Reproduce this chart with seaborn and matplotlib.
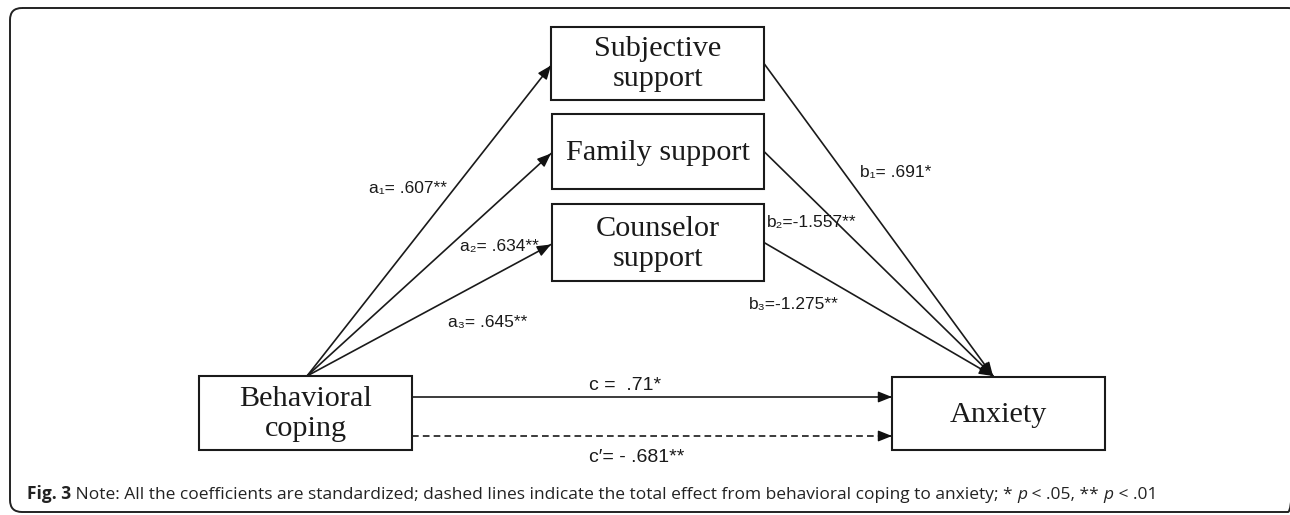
import matplotlib
matplotlib.use("Agg")
import matplotlib.pyplot as plt
import seaborn as sns
import pandas as pd
from matplotlib.patches import Rectangle, FancyBboxPatch

# ---- data ----
node_names = ["Behavioral\ncoping", "Subjective\nsupport", "Family support",
              "Counselor\nsupport", "Anxiety"]
a_labels = ["a\u2081= .607**", "a\u2082= .634**", "a\u2083= .645**"]
b_labels = ["b\u2081= .691*", "b\u2082=-1.557**", "b\u2083=-1.275**"]
c_label = "c =  .71*"
c_prime_label = "c\u2032= - .681**"
caption_bold = "Fig. 3"
caption_text = (" Note: All the coefficients are standardized; dashed lines indicate the total "
                "effect from behavioral coping to anxiety; * ")
caption_tail = [("p", "italic"), (" < .05, ** ", "normal"), ("p", "italic"), (" < .01", "normal")]

# ---- layout (pixel coordinates, y downward) ----
boxes = {  # x0, y0, x1, y1
    0: (199, 376, 412, 450),
    1: (551, 27, 764, 100),
    2: (552, 114, 764, 189),
    3: (552, 204, 764, 281),
    4: (892, 377, 1105, 450),
}

sns.set_theme(style="white")
fig = plt.figure(figsize=(12.9, 5.15), dpi=100)
ax = fig.add_axes([0, 0, 1, 1])

serif = ["Liberation Serif", "DejaVu Serif"]
sans = ["Liberation Sans", "DejaVu Sans"]

# edges
src = (307, 376)
mids = [(boxes[k][1] + boxes[k][3]) / 2 for k in (1, 2, 3)]
edges = []
for k, m in enumerate(mids):
    edges.append((f"a{k}", src, (551, m + 2), "solid"))
for k, m in enumerate(mids):
    edges.append((f"b{k}", (764, m), (993, 376), "solid"))
edges.append(("c", (412, 397), (892, 397), "solid"))
edges.append(("cp", (412, 436), (892, 436), "dashed"))

rows = []
for name, p0, p1, st in edges:
    rows.append(dict(edge=name, x=p0[0], y=p0[1], style=st))
    rows.append(dict(edge=name, x=p1[0], y=p1[1], style=st))
df = pd.DataFrame(rows)
sns.lineplot(data=df, x="x", y="y", units="edge", estimator=None, sort=False,
             style="style", style_order=["solid", "dashed"],
             dashes={"solid": "", "dashed": (4, 2.5)},
             color="#1a1a1a", lw=1.2, legend=False, ax=ax, zorder=2)
ax.set_xlim(0, 1290)
ax.set_ylim(515, 0)
ax.axis("off")

# outer frame
ax.add_patch(FancyBboxPatch((10, 8), 1290, 504, boxstyle="round,pad=0,rounding_size=12",
                            fc="none", ec="#222222", lw=1.4, clip_on=True))

for i, (x0, y0, x1, y1) in boxes.items():
    ax.add_patch(Rectangle((x0, y0), x1 - x0, y1 - y0, fc="white", ec="#1a1a1a", lw=1.5, zorder=3))
    ax.text((x0 + x1) / 2, (y0 + y1) / 2 + 1, node_names[i], ha="center", va="center",
            family=serif, fontsize=21.8, color="#1a1a1a", linespacing=1.2, zorder=4)

for name, p0, p1, st in edges:
    dx, dy = p1[0] - p0[0], p1[1] - p0[1]
    L = (dx ** 2 + dy ** 2) ** 0.5
    q = (p1[0] - dx / L * 9, p1[1] - dy / L * 9)
    ax.annotate("", xy=p1, xytext=q,
                arrowprops=dict(arrowstyle="-|>,head_length=0.7,head_width=0.28",
                                color="#111111", lw=1.0, shrinkA=0, shrinkB=0), zorder=3)

# coefficient labels
lab_kw = dict(family=sans, fontsize=12.5, color="#1a1a1a", va="center", ha="left")
ax.text(369, 188, a_labels[0], **lab_kw)
ax.text(460, 246, a_labels[1], **lab_kw)
ax.text(448, 322, a_labels[2], **lab_kw)
ax.text(860, 172, b_labels[0], **lab_kw)
ax.text(767, 222, b_labels[1], **lab_kw)
ax.text(749, 305, b_labels[2], **lab_kw)
ax.text(589, 385, c_label, family=sans, fontsize=14, color="#1a1a1a", va="center", ha="left")
ax.text(589, 458, c_prime_label, family=sans, fontsize=14, color="#1a1a1a", va="center", ha="left")

# caption
cap_font = ["Open Sans", "DejaVu Sans"]
cs = 12.5
t = ax.text(27, 494, caption_bold, family=cap_font, fontsize=cs, fontweight="bold",
            color="#222222", va="center", ha="left")
t = ax.annotate(caption_text, xy=(1, 0), xycoords=t, va="bottom", ha="left",
                family=cap_font, fontsize=cs, color="#222222")
for txt, sty in caption_tail:
    t = ax.annotate(txt, xy=(1, 0), xycoords=t, va="bottom", ha="left",
                    family=cap_font, fontsize=cs, style=sty, color="#222222")

fig.savefig("out.png", dpi=100)
